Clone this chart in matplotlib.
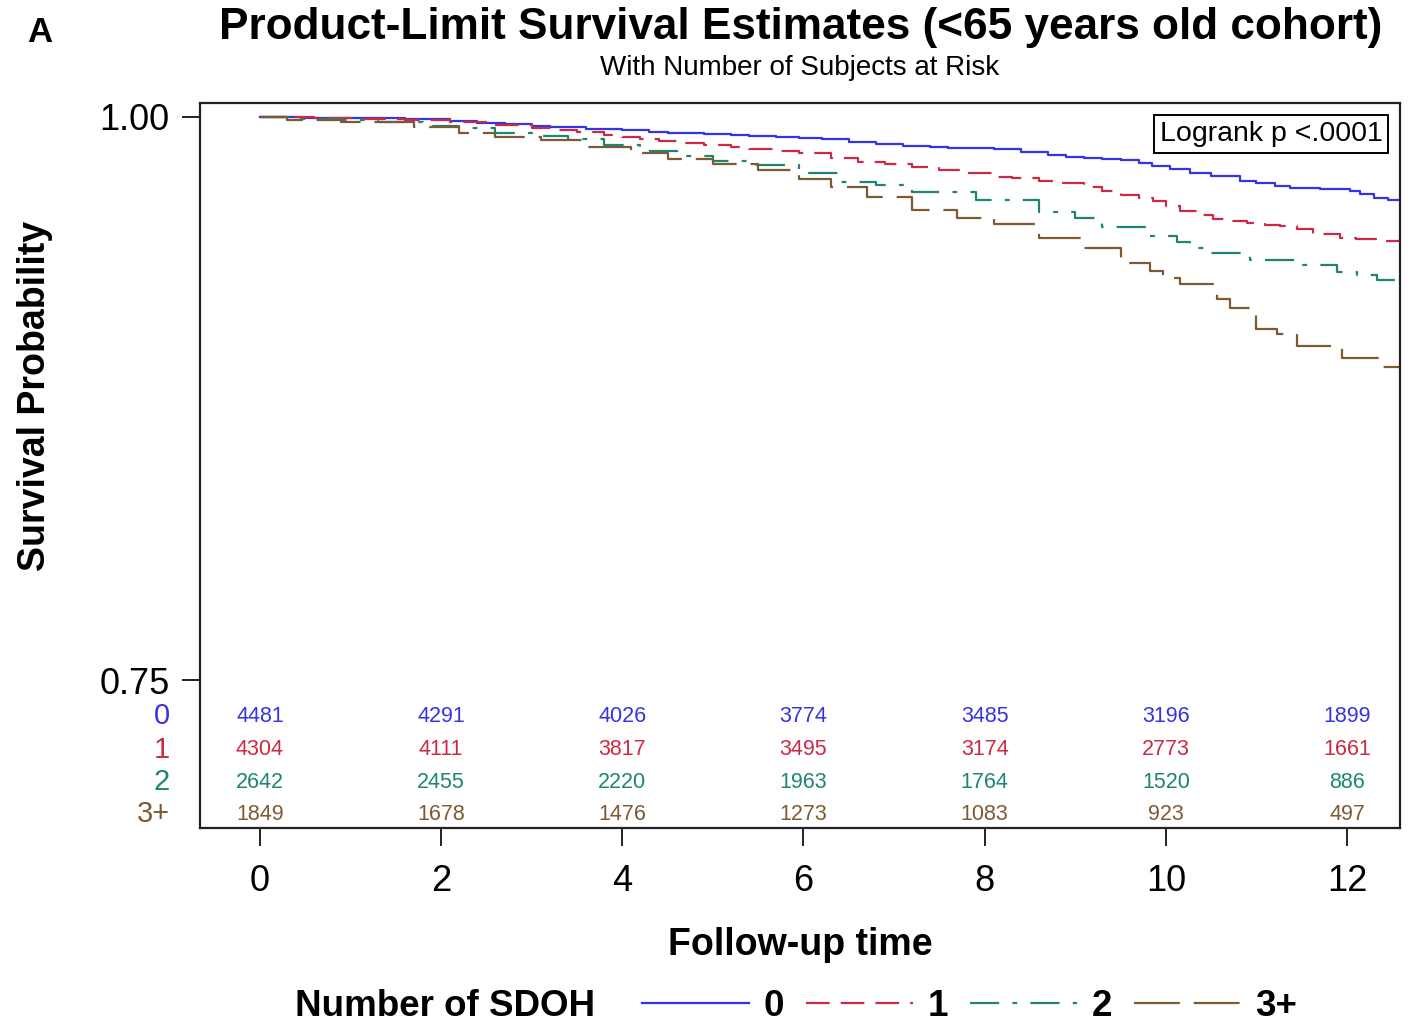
import matplotlib
matplotlib.use("Agg")
import matplotlib.pyplot as plt

plt.rcParams['font.family'] = ['Liberation Sans', 'DejaVu Sans']
plt.rcParams['lines.scale_dashes'] = False

# ---------------- data ----------------
groups = ['0', '1', '2', '3+']
colors = ['#3434e6', '#cc2a44', '#1f8572', '#7d5a34']

t0 = [0, 0.45, 1.0, 1.6, 2.1, 2.4, 2.7, 3.0, 3.2, 3.6,
      4.0, 4.3, 4.5, 4.9, 5.2, 5.4, 5.7, 5.95, 6.2, 6.5,
      6.8, 7.1, 7.4, 7.6, 8.1, 8.4, 8.7, 8.9, 9.1, 9.3,
      9.5, 9.7, 9.85, 10.05, 10.27, 10.5, 10.82, 11.0, 11.2, 11.37,
      11.7, 12.03, 12.14, 12.3, 12.45, 12.6]
s0 = [1.0, .9997, .9994, .9989, .9982, .9975, .9968, .9962, .9955, .9948,
      .9940, .9935, .9931, .9926, .9922, .9917, .9912, .9907, .9900, .9891,
      .9880, .9870, .9866, .9862, .9856, .9844, .9830, .9822, .9817, .9812,
      .9807, .9795, .9782, .9768, .9751, .9736, .9716, .9705, .9695, .9684,
      .9678, .9671, .9656, .9642, .9630, .9623]

t1 = [0, 0.6, 1.1, 1.6, 2.1, 2.6, 3.0, 3.3, 3.5, 3.8,
      4.0, 4.2, 4.4, 4.7, 4.9, 5.2, 5.4, 5.7, 5.95, 6.3,
      6.6, 6.9, 7.2, 7.5, 7.8, 8.1, 8.3, 8.6, 8.8, 9.1,
      9.3, 9.5, 9.7, 9.86, 10.0, 10.16, 10.35, 10.52, 10.7, 10.9,
      11.1, 11.26, 11.45, 11.63, 11.92, 12.1, 12.33, 12.6]
s1 = [1.0, .9996, .9992, .9986, .9976, .9963, .9950, .9941, .9932, .9922,
      .9912, .9902, .9893, .9884, .9876, .9867, .9858, .9849, .9840, .9820,
      .9800, .9790, .9778, .9765, .9750, .9735, .9728, .9716, .9705, .9690,
      .9672, .9654, .9640, .9627, .9605, .9583, .9565, .9547, .9538, .9529,
      .9522, .9516, .9502, .9480, .9463, .9456, .9449, .9440]

t2 = [0, 0.4, 0.9, 1.3, 1.8, 2.2, 2.6, 3.0, 3.4, 3.8, 4.2, 4.6, 5.0, 5.4, 5.95, 6.4,
      6.8, 7.2, 7.9, 8.6, 9.0, 9.3, 9.83, 10.12, 10.27, 10.49, 10.93, 11.45, 11.89,
      12.11, 12.33, 12.55, 12.6]
s2 = [1.0, 0.9991, 0.9985, 0.9978, 0.9962, 0.9950, 0.9930, 0.9914, 0.9900, 0.9876,
      0.9850, 0.9826, 0.9806, 0.9785, 0.9751, 0.9712, 0.9698, 0.9667, 0.9631, 0.9578,
      0.9550, 0.9511, 0.9472, 0.9445, 0.9418, 0.9396, 0.9365, 0.9343, 0.9311, 0.9298,
      0.9276, 0.9254, 0.9254]

t3 = [0, 0.3, 0.9, 1.7, 2.2, 2.6, 3.1, 3.6, 4.1, 4.5, 5.0, 5.5, 5.95, 6.3, 6.7, 7.2,
      7.7, 8.1, 8.6, 9.1, 9.5, 9.83, 9.97, 10.16, 10.57, 10.71, 11.0, 11.23, 11.45,
      11.95, 12.40, 12.6]
s3 = [1.0, 0.9987, 0.9978, 0.9956, 0.9930, 0.9910, 0.9898, 0.9865, 0.9840, 0.9815,
      0.9790, 0.9765, 0.9725, 0.9690, 0.9645, 0.9587, 0.9550, 0.9525, 0.9463, 0.9420,
      0.9350, 0.9316, 0.9285, 0.9258, 0.9192, 0.9152, 0.9059, 0.9037, 0.8983, 0.8930,
      0.8890, 0.8886]

risk_times = [0, 2, 4, 6, 8, 10, 12]
risk0 = [4481, 4291, 4026, 3774, 3485, 3196, 1899]
risk1 = [4304, 4111, 3817, 3495, 3174, 2773, 1661]
risk2 = [2642, 2455, 2220, 1963, 1764, 1520, 886]
risk3 = [1849, 1678, 1476, 1273, 1083, 923, 497]

xticks = [0, 2, 4, 6, 8, 10, 12]
yticks = [0.75, 1.00]
ytick_labels = ['0.75', '1.00']

# ---------------- figure ----------------
W, H = 1414, 1025
fig = plt.figure(figsize=(W / 100, H / 100), dpi=100)
ax = fig.add_axes([200 / W, 1 - 828 / H, 1200 / W, 725 / H])

styles = [
    dict(linestyle='-'),
    dict(dashes=(17, 8)),
    dict(dashes=(21, 9.5, 3.5, 9.5)),
    dict(dashes=(33, 10)),
]
series_t = [t0, t1, t2, t3]
series_s = [s0, s1, s2, s3]
lines = []
for t, s, c, st, g in zip(series_t, series_s, colors, styles, groups):
    ln, = ax.step(t, s, where='post', color=c, lw=1.6, label=g, **st)
    lines.append(ln)

ax.set_xlim(-0.662, 12.585)
ax.set_ylim(0.6843, 1.0062)
ax.set_xticks(xticks)
ax.set_xticklabels([str(v) for v in xticks])
ax.set_yticks(yticks)
ax.set_yticklabels(ytick_labels)
ax.tick_params(axis='both', direction='out', length=13, width=1.4, labelsize=26,
               color='#222222')
ax.tick_params(axis='x', pad=13)
ax.tick_params(axis='y', pad=9)
for sp in ax.spines.values():
    sp.set_linewidth(1.6)
    sp.set_color('#222222')

# logrank box
ax.text(0.9855, 0.975, 'Logrank p <.0001', transform=ax.transAxes, ha='right', va='top',
        fontsize=20.5, bbox=dict(boxstyle='square,pad=0.2', fc='white', ec='black', lw=1.4))

# risk table
trans = ax.get_xaxis_transform()
row_y = [0.154, 0.108, 0.0628, 0.0187]
risks = [risk0, risk1, risk2, risk3]
for g, c, yy, rk in zip(groups, colors, row_y, risks):
    for tt, n in zip(risk_times, rk):
        ax.text(tt, yy, str(n), transform=trans, ha='center', va='center',
                fontsize=15.5, color=c)
    ax.text(-0.025, yy, g, transform=ax.transAxes, ha='right', va='center',
            fontsize=21, color=c, clip_on=False)

# titles and labels
fig.text(801 / W, 1 - 28 / H, 'Product-Limit Survival Estimates (<65 years old cohort)',
         ha='center', va='center', fontsize=31.8, fontweight='bold')
fig.text(800 / W, 1 - 68 / H, 'With Number of Subjects at Risk',
         ha='center', va='center', fontsize=20)
fig.text(40 / W, 1 - 33 / H, 'A', ha='center', va='center', fontsize=25, fontweight='bold')
fig.text(35 / W, 1 - 396 / H, 'Survival Probability', rotation=90,
         ha='center', va='center', fontsize=27, fontweight='bold')
fig.text(800 / W, 1 - 945 / H, 'Follow-up time',
         ha='center', va='center', fontsize=27, fontweight='bold')

# legend
fig.text(295 / W, 1 - 1006 / H, 'Number of SDOH', ha='left', va='center',
         fontsize=26.5, fontweight='bold')
fig.legend(handles=lines, labels=groups, ncol=4, loc='center left',
           bbox_to_anchor=(642 / W, 1 - 1006 / H), frameon=False,
           prop=dict(size=26.5, weight='bold'), handlelength=2.9, handletextpad=0.4,
           columnspacing=0.6, borderpad=0, borderaxespad=0)

fig.savefig('out.png', dpi=100)
